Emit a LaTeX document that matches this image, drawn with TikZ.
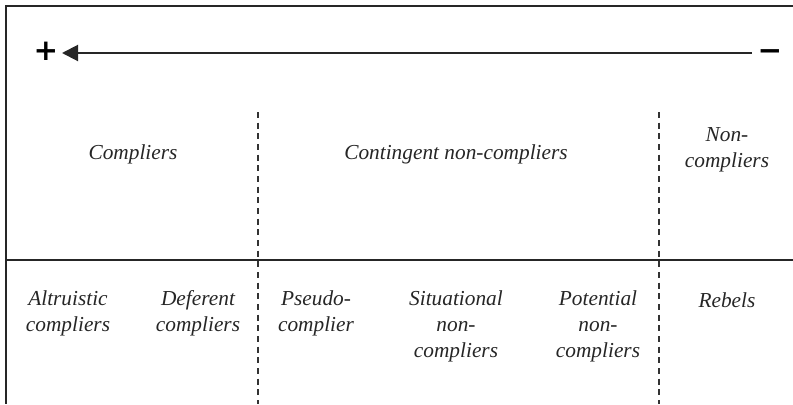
\documentclass[tikz,border=0pt]{standalone}
\usepackage{fontspec}
\setmainfont{Liberation Serif}
\newfontfamily\signfont{DejaVu Sans}
\usetikzlibrary{arrows.meta}
\begin{document}
\begin{tikzpicture}[x=0.75pt,y=-0.75pt,
  lab/.style={font=\fontsize{16}{19.5}\selectfont\itshape, align=center, inner sep=0pt, text=black!85},
  sign/.style={font=\fontsize{22}{22}\selectfont\signfont\bfseries, inner sep=0pt},
  frame/.style={line width=1pt, draw=black!85},
  sep/.style={line width=0.8pt, dash pattern=on 4.5pt off 3.5pt, draw=black!80}]
\useasboundingbox (0,0) rectangle (793,404);
% frame
\coordinate (tl) at (6,6);
\coordinate (tr) at (793,6);
\coordinate (bl) at (6,404);
\coordinate (ml) at (6,260);
\coordinate (mr) at (793,260);
\draw[frame] (tr) -- (tl) -- (bl);
\draw[frame] (ml) -- (mr);
% arrow
\node[sign] (plus) at (46,51) {+};
\node[sign] (minus) at (770,55) {\symbol{"2212}};
\coordinate (astart) at (752,53);
\coordinate (aend) at (62,53);
\draw[line width=1.5pt, draw=black!85, -{Triangle[length=12pt,width=12pt]}] (astart) -- (aend);
% dashed separators
\coordinate (d1t) at (258,112);
\coordinate (d1b) at (258,404);
\coordinate (d2t) at (659,112);
\coordinate (d2b) at (659,404);
\draw[sep] (d1t) -- (d1b);
\draw[sep] (d2t) -- (d2b);
% top row
\node[lab] (comp) at (133,154) {Compliers};
\node[lab] (cont) at (456,154) {Contingent non-compliers};
\node[lab] (nonc) at (727,150) {Non-\\compliers};
% bottom row
\node[lab] (alt) at (68,313) {Altruistic\\compliers};
\node[lab] (def) at (198,313) {Deferent\\compliers};
\node[lab] (pse) at (316,313) {Pseudo-\\complier};
\node[lab] (sit) at (456,326) {Situational\\non-\\compliers};
\node[lab] (pot) at (598,326) {Potential\\non-\\compliers};
\node[lab] (reb) at (727,300) {Rebels};
\end{tikzpicture}
\end{document}
